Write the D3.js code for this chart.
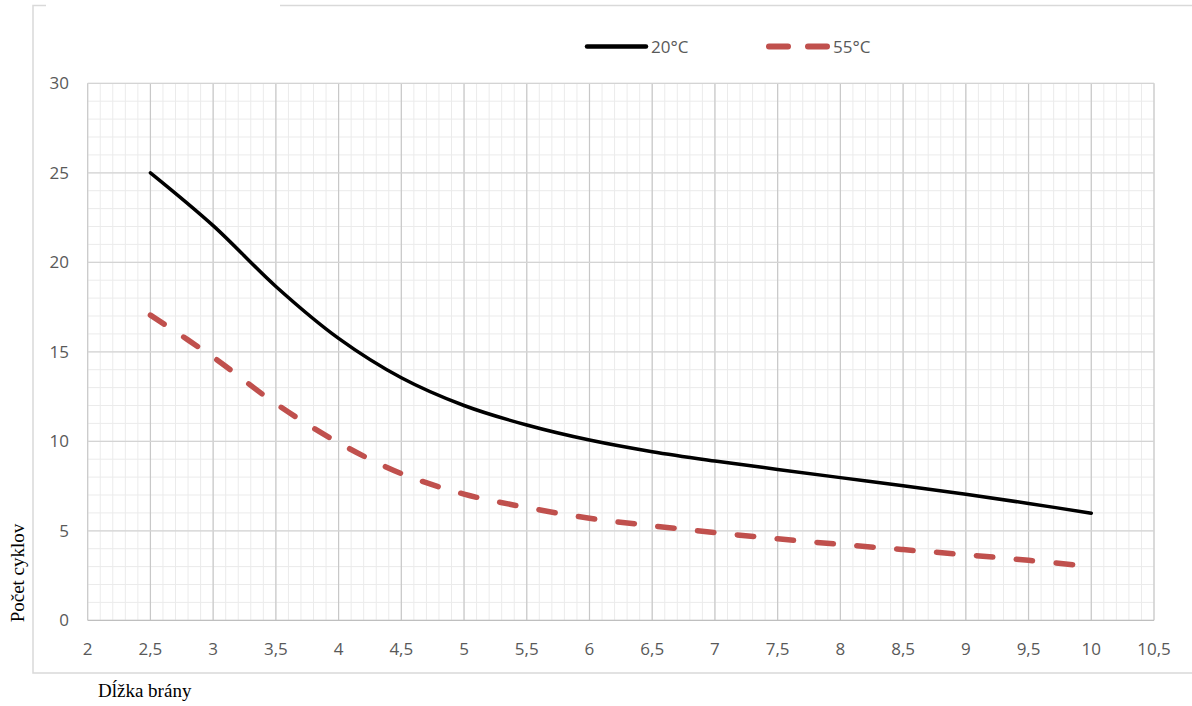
<!DOCTYPE html>
<html lang="sk">
	<head>
		<meta charset="utf-8">
		<title>Počet cyklov</title>
		<script type="text/javascript" src="https://d3js.org/d3.v7.min.js"></script>
		<style type="text/css">
			body { margin: 0; background: #fff; }
			text { font-family: "Open Sans", sans-serif; }
		</style>
	</head>
	<body>
		<script type="text/javascript">

			//Width and height
			var w = 1192;
			var h = 706;

			//Data
			var dlzka = [2.5, 3, 3.5, 4, 4.5, 5, 5.5, 6, 6.5, 7, 7.5, 8, 8.5, 9, 9.5, 10];
			var cykly20 = [25, 22.05, 18.65, 15.75, 13.55, 12.0, 10.91, 10.07, 9.42, 8.9, 8.43, 7.97, 7.52, 7.04, 6.53, 5.98];
			var cykly55 = [17.05, 14.7, 12.1, 9.92, 8.2, 7.05, 6.3, 5.7, 5.28, 4.9, 4.55, 4.24, 3.95, 3.66, 3.35, 3.0];
			var seriesNames = ["20°C", "55°C"];
			var xTicks = [2, 2.5, 3, 3.5, 4, 4.5, 5, 5.5, 6, 6.5, 7, 7.5, 8, 8.5, 9, 9.5, 10, 10.5];
			var yTicks = [0, 5, 10, 15, 20, 25, 30];

			//Scales
			var x = d3.scaleLinear().domain([2, 10.5]).range([87.7, 1154]);
			var y = d3.scaleLinear().domain([0, 30]).range([620.3, 83.3]);

			var svg = d3.select("body")
				.append("svg")
				.attr("width", w)
				.attr("height", h);

			//Outer chart border (gap at top where title box sits)
			svg.append("path")
				.attr("d", "M46,5.5 H33 V673 H1192 M280,5.5 H1192")
				.attr("fill", "none")
				.attr("stroke", "#d9d9d9")
				.attr("stroke-width", 1.5);

			//Minor gridlines
			var xMinor = d3.range(20, 106).map(function(d) { return d / 10; });
			var yMinor = d3.range(0, 31);

			svg.append("g").selectAll("line")
				.data(xMinor)
				.enter()
				.append("line")
				.attr("x1", function(d) { return x(d); })
				.attr("x2", function(d) { return x(d); })
				.attr("y1", y(0))
				.attr("y2", y(30))
				.attr("stroke", "#ebebeb")
				.attr("stroke-width", 1);

			svg.append("g").selectAll("line")
				.data(yMinor)
				.enter()
				.append("line")
				.attr("x1", x(2))
				.attr("x2", x(10.5))
				.attr("y1", function(d) { return y(d); })
				.attr("y2", function(d) { return y(d); })
				.attr("stroke", "#ebebeb")
				.attr("stroke-width", 1);

			//Major gridlines
			svg.append("g").selectAll("line")
				.data(xTicks)
				.enter()
				.append("line")
				.attr("x1", function(d) { return x(d); })
				.attr("x2", function(d) { return x(d); })
				.attr("y1", y(0))
				.attr("y2", y(30))
				.attr("stroke", "#c8c8c8")
				.attr("stroke-width", 1.2);

			svg.append("g").selectAll("line")
				.data(yTicks)
				.enter()
				.append("line")
				.attr("x1", x(2))
				.attr("x2", x(10.5))
				.attr("y1", function(d) { return y(d); })
				.attr("y2", function(d) { return y(d); })
				.attr("stroke", function(d) { return d === 0 ? "#bfbfbf" : "#d4d4d4"; })
				.attr("stroke-width", 1.2);

			//Tick labels
			svg.append("g").selectAll("text")
				.data(yTicks)
				.enter()
				.append("text")
				.attr("x", 69)
				.attr("y", function(d) { return y(d) + 6; })
				.attr("text-anchor", "end")
				.attr("font-size", 17)
				.attr("font-weight", 500)
				.attr("fill", "#595959")
				.text(function(d) { return d; });

			svg.append("g").selectAll("text")
				.data(xTicks)
				.enter()
				.append("text")
				.attr("x", function(d) { return x(d); })
				.attr("y", 655)
				.attr("text-anchor", "middle")
				.attr("font-size", 17)
				.attr("font-weight", 500)
				.attr("fill", "#595959")
				.text(function(d) { return String(d).replace(".", ","); });

			//Axis titles
			svg.append("text")
				.attr("transform", "translate(24,573) rotate(-90)")
				.attr("text-anchor", "middle")
				.style("font-family", "'Liberation Serif', serif")
				.attr("font-size", 19)
				.attr("fill", "#000")
				.text("Počet cyklov");

			svg.append("text")
				.attr("x", 98)
				.attr("y", 697)
				.style("font-family", "'Liberation Serif', serif")
				.attr("font-size", 19)
				.attr("fill", "#000")
				.text("Dĺžka brány");

			//Lines
			var line = d3.line()
				.x(function(d) { return x(d[0]); })
				.y(function(d) { return y(d[1]); })
				.curve(d3.curveCatmullRom.alpha(0.5));

			svg.append("path")
				.datum(d3.zip(dlzka, cykly55))
				.attr("d", line)
				.attr("fill", "none")
				.attr("stroke", "#c0504d")
				.attr("stroke-width", 5.5)
				.attr("stroke-linecap", "round")
				.attr("stroke-dasharray", "16.5,23.5");

			svg.append("path")
				.datum(d3.zip(dlzka, cykly20))
				.attr("d", line)
				.attr("fill", "none")
				.attr("stroke", "#000")
				.attr("stroke-width", 3.5)
				.attr("stroke-linecap", "round");

			//Legend
			var legend = svg.append("g");
			legend.append("line")
				.attr("x1", 587).attr("x2", 646)
				.attr("y1", 46.5).attr("y2", 46.5)
				.attr("stroke", "#000")
				.attr("stroke-width", 4.5)
				.attr("stroke-linecap", "round");
			legend.append("text")
				.attr("x", 651)
				.attr("y", 53)
				.attr("font-size", 17)
				.attr("font-weight", 500)
				.attr("fill", "#595959")
				.text(seriesNames[0]);

			legend.append("line")
				.attr("x1", 769).attr("x2", 829)
				.attr("y1", 46.5).attr("y2", 46.5)
				.attr("stroke", "#c0504d")
				.attr("stroke-width", 6)
				.attr("stroke-linecap", "round")
				.attr("stroke-dasharray", "19,20");
			legend.append("text")
				.attr("x", 833)
				.attr("y", 53)
				.attr("font-size", 17)
				.attr("font-weight", 500)
				.attr("fill", "#595959")
				.text(seriesNames[1]);

		</script>
	</body>
</html>
